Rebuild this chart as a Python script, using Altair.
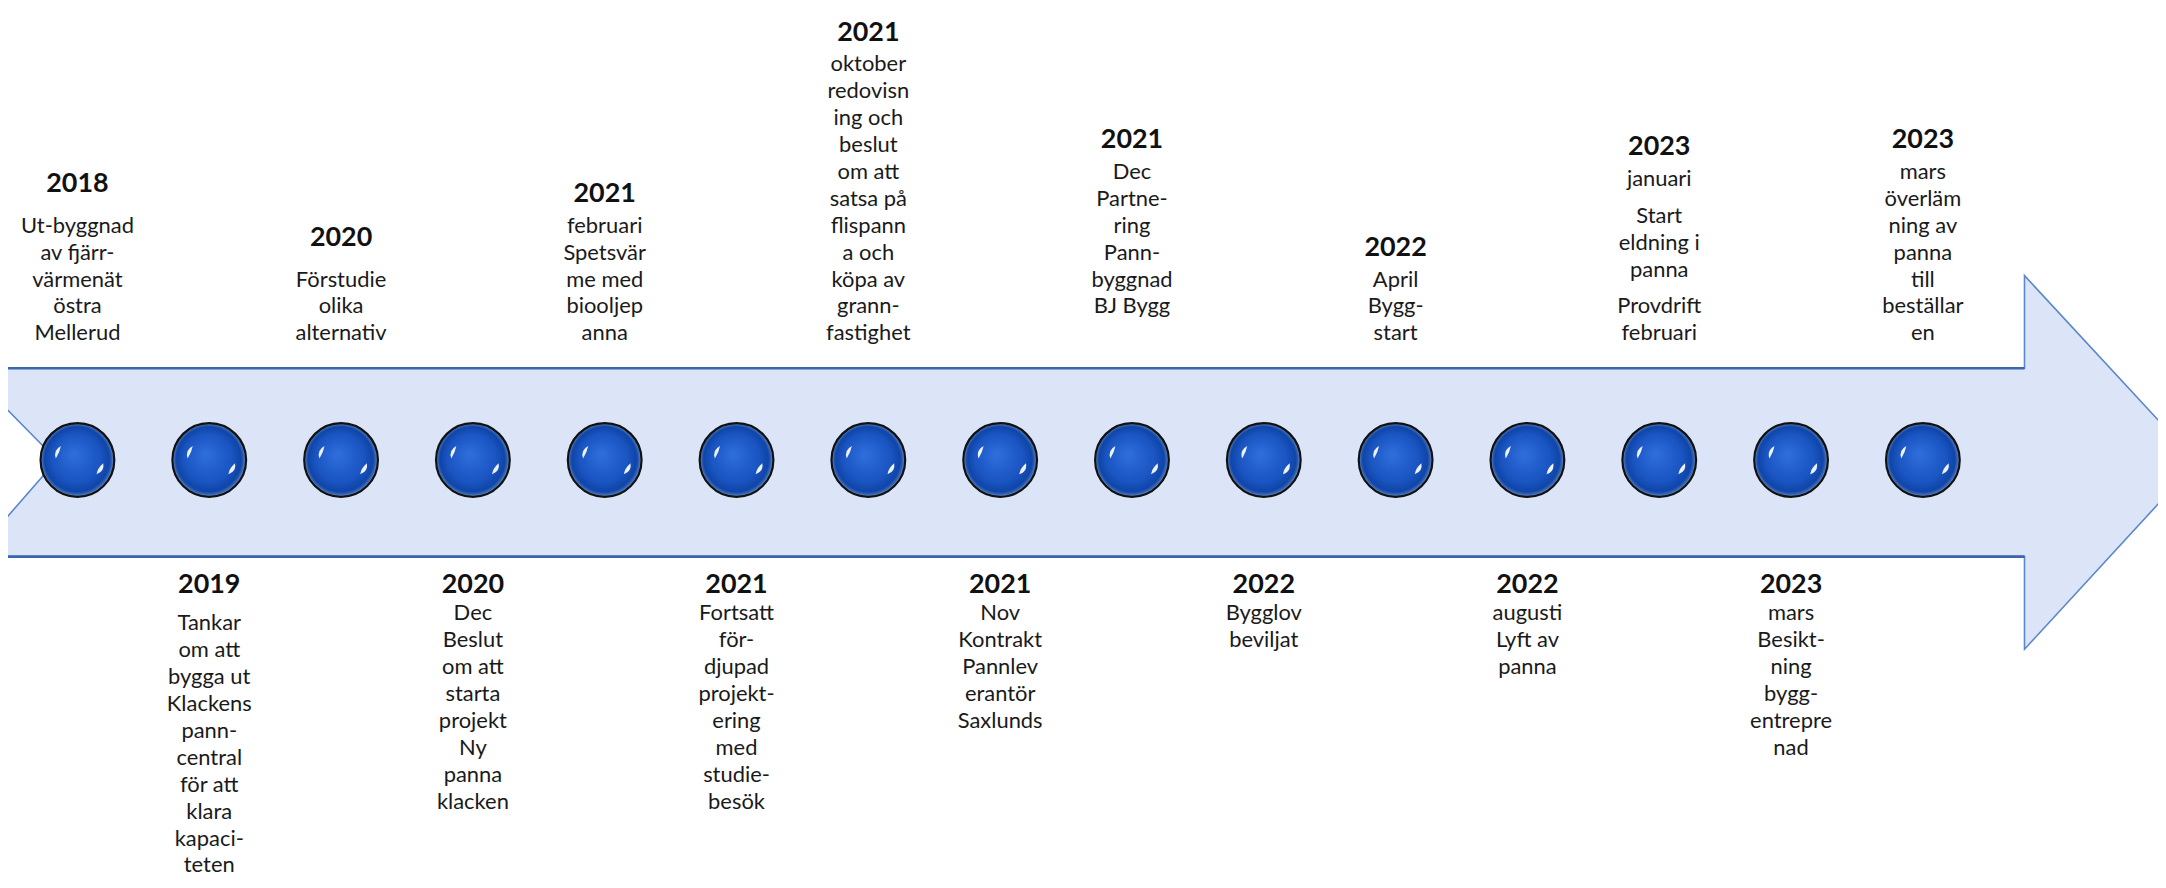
import altair as alt
import pandas as pd

# ---------------- data ----------------
years = ["2018", "2019", "2020", "2020", "2021", "2021", "2021", "2021",
         "2021", "2022", "2022", "2022", "2023", "2023", "2023"]

# "" marks a paragraph break inside a text block, " " an empty line
texts = [
    ["", "Ut-byggnad", "av fjärr-", "värmenät", "östra", "Mellerud"],
    ["", "Tankar", "om att", "bygga ut", "Klackens", "pann-", "central", "för att", "klara", "kapaci-", "teten"],
    ["", "Förstudie", "olika", "alternativ"],
    ["Dec", "Beslut", "om att", "starta", "projekt", "Ny", "panna", "klacken"],
    ["februari", "Spetsvär", "me med", "biooljep", "anna"],
    ["Fortsatt", "för-", "djupad", "projekt-", "ering", "med", "studie-", "besök"],
    ["oktober", "redovisn", "ing och", "beslut", "om att", "satsa på", "flispann", "a och", "köpa av", "grann-", "fastighet"],
    ["Nov", "Kontrakt", "Pannlev", "erantör", "Saxlunds"],
    ["Dec", "Partne-", "ring", "Pann-", "byggnad", "BJ Bygg", " "],
    ["Bygglov", "beviljat"],
    ["April", "Bygg-", "start"],
    ["augusti", "Lyft av", "panna"],
    ["januari", "", "Start", "eldning i", "panna", "", "Provdrift", "februari"],
    ["mars", "Besikt-", "ning", "bygg-", "entrepre", "nad"],
    ["mars", "överläm", "ning av", "panna", "till", "beställar", "en"],
]

# ---------------- tables built from the arrays ----------------
head_rows, line_rows = [], []
for i, (yr, block) in enumerate(zip(years, texts)):
    side = "top" if i % 2 == 0 else "bottom"
    n_lines = sum(1 for t in block if t)
    n_gaps = sum(1 for t in block if not t)
    head_rows.append(dict(i=i, year=yr, side=side, n_lines=n_lines, n_gaps=n_gaps))
    lb = gb = 0
    for t in block:
        if t:
            line_rows.append(dict(i=i, text=t, side=side, lines_before=lb, gaps_before=gb,
                                  lines_after=n_lines - lb - 1, gaps_after=n_gaps - gb))
            lb += 1
        else:
            gb += 1
heads = pd.DataFrame(head_rows)
lines = pd.DataFrame(line_rows)
events = pd.DataFrame({"i": list(range(len(years))), "year": years})
one = pd.DataFrame({"k": [0]})

# ---------------- layout ----------------
W, H = 2158, 872
step = 1720 / 13.0          # px between milestones
x0 = 1 - (210 - 8) / step   # index value at left edge of plot
x1 = 1 + (8 + W - 210) / step
xscale = alt.Scale(domain=[x0, x1])
yscale = alt.Scale(domain=[8, 8 + H], reverse=True)

LINE_H, GAP, HEAD_GAP = 27, 10, 32
TOP_LAST, BOT_HEAD, BOT_FIRST = 333, 586, 614
BALL_Y = 460
FONT = "Lato"

# arrow outline (pixel units, relative to plot origin)
arrow_path = ("M -18 360 L 2024 360 L 2024 267 L 2197 454 L 2024 642 L 2024 549 "
              "L -18 549 L -18 529 L 49 452 L -18 384 Z")

arrow = alt.Chart(one).mark_point(
    shape=arrow_path, size=4, filled=True, fill="#dbe5f7", fillOpacity=1,
    stroke="#5b87cd", strokeWidth=1.6, opacity=1
).encode(x=alt.value(0), y=alt.value(0))

edge_top = alt.Chart(one).mark_rule(color="#3a66ad", strokeWidth=2.6).encode(
    x=alt.value(0), x2=alt.value(2024), y=alt.value(360))
edge_bot = alt.Chart(one).mark_rule(color="#3a66ad", strokeWidth=2.6).encode(
    x=alt.value(0), x2=alt.value(2024), y=alt.value(549))

ball_fill = {
    "gradient": "radial",
    "x1": 0.45, "y1": 0.42, "r1": 0,
    "x2": 0.5, "y2": 0.5, "r2": 0.5,
    "stops": [
        {"offset": 0, "color": "#2f6fdc"},
        {"offset": 0.65, "color": "#1a55c2"},
        {"offset": 0.88, "color": "#0f45a8"},
        {"offset": 0.95, "color": "#3a68b6"},
        {"offset": 1, "color": "#8ea9d6"},
    ],
}

balls = alt.Chart(events).transform_calculate(py=str(BALL_Y)).mark_point(
    shape="circle", size=5476, filled=True, fill=ball_fill, fillOpacity=1,
    stroke="#111111", strokeWidth=2.2, opacity=1
).encode(
    x=alt.X("i:Q", scale=xscale, axis=None),
    y=alt.Y("py:Q", scale=yscale, axis=None),
)

gloss_path = ("M -21.7 -1.5 Q -24.45 -9.85 -16.6 -14 Q -17.85 -7.25 -21.7 -1.5 Z "
              "M 19.2 14.4 Q 27.45 11.35 25.9 3.3 Q 20.05 8.35 19.2 14.4 Z")
gloss = alt.Chart(events).transform_calculate(py=str(BALL_Y)).mark_point(
    shape=gloss_path, size=4, filled=True, fill="white", fillOpacity=0.92,
    strokeWidth=0, opacity=1
).encode(
    x=alt.X("i:Q", scale=xscale, axis=None),
    y=alt.Y("py:Q", scale=yscale, axis=None),
)

head_text = alt.Chart(heads).transform_calculate(
    py=f"datum.side == 'top' ? {TOP_LAST} - (datum.n_lines - 1) * {LINE_H} - datum.n_gaps * {GAP} - {HEAD_GAP} : {BOT_HEAD}"
).mark_text(
    font=FONT, fontSize=27, fontWeight="bold", color="#111111",
    align="center", baseline="middle"
).encode(
    x=alt.X("i:Q", scale=xscale, axis=None),
    y=alt.Y("py:Q", scale=yscale, axis=None),
    text="year:N",
)

line_text = alt.Chart(lines).transform_calculate(
    py=(f"datum.side == 'top' ? {TOP_LAST} - datum.lines_after * {LINE_H} - datum.gaps_after * {GAP}"
        f" : {BOT_FIRST} + datum.lines_before * {LINE_H} + datum.gaps_before * {GAP}")
).mark_text(
    font=FONT, fontSize=22, color="#1a1a1a", align="center", baseline="middle"
).encode(
    x=alt.X("i:Q", scale=xscale, axis=None),
    y=alt.Y("py:Q", scale=yscale, axis=None),
    text="text:N",
)

chart = alt.layer(
    arrow, edge_top, edge_bot, balls, gloss, head_text, line_text
).properties(
    width=W, height=H, padding=0, autosize="none", background="white"
).configure_view(stroke=None)

chart.save("out.html", embed_options={"renderer": "svg", "actions": False})
